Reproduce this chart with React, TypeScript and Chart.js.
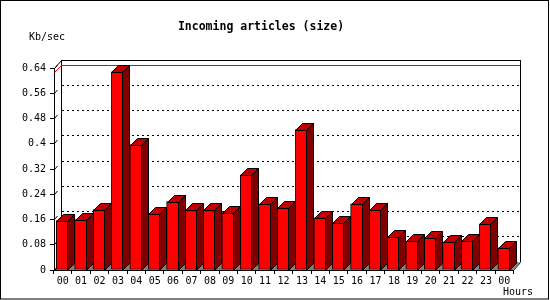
import React, { useEffect, useRef } from "react";
import { Chart, registerables } from "chart.js";

Chart.register(...registerables);

const hours = ["00","01","02","03","04","05","06","07","08","09","10","11","12","13","14","15","16","17","18","19","20","21","22","23","00"];
const sizeValues = [0.155,0.158,0.19,0.626,0.396,0.176,0.215,0.187,0.187,0.18,0.30,0.208,0.195,0.443,0.164,0.148,0.208,0.189,0.104,0.09,0.10,0.088,0.09,0.145,0.069];
const yTicks = [0,0.08,0.16,0.24,0.32,0.4,0.48,0.56,0.64];
const yTickLabels = ["0","0.08","0.16","0.24","0.32","0.4","0.48","0.56","0.64"];
const titleText = "Incoming articles (size)";
const yTitle = "Kb/sec";
const xTitle = "Hours";

const FONT = "'DejaVu Sans Mono', monospace";
const WALL_DX = 7, WALL_DY = 8;
const BAR_DX = 7, BAR_DY = 7;

const threeD = {
  id: "threeD",
  beforeDatasetsDraw(chart: any) {
    const ctx = chart.ctx as CanvasRenderingContext2D;
    const { left, right, top, bottom } = chart.chartArea;
    const y = chart.scales.y;
    const x = chart.scales.x;
    const L = Math.round(left) + 1; // front axis x
    const R = Math.round(right);
    const T = Math.round(y.getPixelForValue(0.64));
    const B = Math.round(y.getPixelForValue(0));
    ctx.save();
    // outer border
    ctx.fillStyle = "#fff";
    ctx.fillRect(0, 0, 550, 300);
    ctx.strokeStyle = "#000";
    ctx.lineWidth = 1;
    ctx.strokeRect(0.5, 0.5, 548, 298.5);
    // title
    ctx.fillStyle = "#000";
    ctx.font = `bold 11.5px ${FONT}`;
    ctx.textAlign = "center";
    ctx.textBaseline = "middle";
    ctx.fillText(titleText, 261, 27);
    ctx.font = `10px ${FONT}`;
    ctx.textAlign = "left";
    ctx.fillText(yTitle, 29, 37);
    ctx.textAlign = "right";
    ctx.fillText(xTitle, 533, 292);
    // floor
    ctx.fillStyle = "#808080";
    ctx.beginPath();
    ctx.moveTo(L, B);
    ctx.lineTo(L + WALL_DX, B - WALL_DY);
    ctx.lineTo(R + WALL_DX, B - WALL_DY);
    ctx.lineTo(R, B);
    ctx.closePath();
    ctx.fill();
    // frame lines
    ctx.strokeStyle = "#000";
    ctx.beginPath();
    // front y axis
    ctx.moveTo(L + 0.5, T); ctx.lineTo(L + 0.5, B);
    // back wall left
    ctx.moveTo(L + WALL_DX + 0.5, T - WALL_DY); ctx.lineTo(L + WALL_DX + 0.5, B - WALL_DY);
    // back wall top
    ctx.moveTo(L + WALL_DX, T - WALL_DY + 0.5); ctx.lineTo(R + WALL_DX + 1, T - WALL_DY + 0.5);
    // back wall right
    ctx.moveTo(R + WALL_DX + 0.5, T - WALL_DY); ctx.lineTo(R + WALL_DX + 0.5, B - WALL_DY);
    // right floor diagonal
    ctx.moveTo(R + WALL_DX + 0.5, B - WALL_DY + 0.5); ctx.lineTo(R + 0.5, B + 0.5);
    // front bottom
    ctx.moveTo(L, B + 0.5); ctx.lineTo(R + 1, B + 0.5);
    // left top diagonal
    ctx.moveTo(L + 0.5, T + 0.5); ctx.lineTo(L + WALL_DX + 0.5, T - WALL_DY + 0.5);
    ctx.moveTo(L + 0.5, B + 0.5); ctx.lineTo(L + WALL_DX + 0.5, B - WALL_DY + 0.5);
    ctx.stroke();
    // y ticks, labels and back grid
    ctx.font = `10px ${FONT}`;
    ctx.textAlign = "right";
    ctx.textBaseline = "middle";
    ctx.fillStyle = "#000";
    yTicks.forEach((v, i) => {
      const py = Math.round(y.getPixelForValue(v));
      ctx.fillText(yTickLabels[i], 46, py + 0.5);
      ctx.setLineDash([]);
      ctx.beginPath();
      ctx.moveTo(L - 4, py + 0.5); ctx.lineTo(L + 1, py + 0.5);
      ctx.moveTo(L + 0.5, py + 0.5); ctx.lineTo(L + 3.5, py - 3);
      ctx.stroke();
      if (v > 0 && v < 0.64) {
        ctx.setLineDash([2, 3]);
        ctx.beginPath();
        ctx.moveTo(L + WALL_DX + 1, py - WALL_DY + 0.5);
        ctx.lineTo(R + WALL_DX, py - WALL_DY + 0.5);
        ctx.stroke();
      }
    });
    ctx.setLineDash([]);
    // max line (red)
    const maxV = Math.max(...sizeValues);
    const my = Math.round(y.getPixelForValue(maxV));
    ctx.strokeStyle = "#ff0000";
    ctx.beginPath();
    ctx.moveTo(L + 0.5, my + 0.5);
    ctx.lineTo(L + BAR_DX + 0.5, my - BAR_DY + 0.5);
    ctx.lineTo(R + WALL_DX, my - BAR_DY + 0.5);
    ctx.stroke();
    // x ticks & labels
    ctx.strokeStyle = "#000";
    ctx.fillStyle = "#000";
    ctx.textAlign = "center";
    const n = hours.length;
    const cw = (right - left) / n;
    ctx.beginPath();
    for (let i = 0; i <= n; i++) {
      const px = Math.round(left + cw * i) + 0.5;
      ctx.moveTo(px, B); ctx.lineTo(px, B + 4);
    }
    ctx.stroke();
    hours.forEach((h, i) => {
      ctx.fillText(h, x.getPixelForValue(i) + 0.5, 281);
    });
    ctx.restore();
  },
  afterDatasetsDraw(chart: any) {
    const ctx = chart.ctx as CanvasRenderingContext2D;
    const meta = chart.getDatasetMeta(0);
    ctx.save();
    ctx.lineWidth = 1;
    ctx.strokeStyle = "#000";
    meta.data.forEach((bar: any) => {
      const x1 = Math.round(bar.x - bar.width / 2);
      const x2 = Math.round(bar.x + bar.width / 2) - 1;
      const yt = Math.round(bar.y);
      const yb = Math.round(bar.base);
      // top face
      ctx.fillStyle = "#c00000";
      ctx.beginPath();
      ctx.moveTo(x1 + 0.5, yt + 0.5);
      ctx.lineTo(x1 + BAR_DX + 0.5, yt - BAR_DY + 0.5);
      ctx.lineTo(x2 + BAR_DX + 0.5, yt - BAR_DY + 0.5);
      ctx.lineTo(x2 + 0.5, yt + 0.5);
      ctx.closePath();
      ctx.fill();
      ctx.stroke();
      // side face
      ctx.fillStyle = "#800000";
      ctx.beginPath();
      ctx.moveTo(x2 + 0.5, yt + 0.5);
      ctx.lineTo(x2 + BAR_DX + 0.5, yt - BAR_DY + 0.5);
      ctx.lineTo(x2 + BAR_DX + 0.5, yb - BAR_DY + 0.5);
      ctx.lineTo(x2 + 0.5, yb + 0.5);
      ctx.closePath();
      ctx.fill();
      ctx.stroke();
    });
    ctx.restore();
  },
};

export default function App() {
  const ref = useRef<HTMLCanvasElement | null>(null);
  useEffect(() => {
    document.body.style.margin = "0";
    const canvas = ref.current!;
    const chart = new Chart(canvas, {
      type: "bar",
      data: {
        labels: hours,
        datasets: [
          {
            data: sizeValues,
            backgroundColor: "#ff0000",
            borderColor: "#000000",
            borderWidth: 1,
            borderSkipped: false,
            barThickness: 12,
          } as any,
        ],
      },
      options: {
        responsive: false,
        animation: false,
        devicePixelRatio: 1,
        layout: { padding: { left: 53, right: 37, top: 67.5, bottom: 30.5 } },
        plugins: { legend: { display: false }, tooltip: { enabled: false }, title: { display: false } },
        scales: {
          x: { type: "category", display: false, offset: true },
          y: { type: "linear", display: false, min: 0, max: 0.64 },
        },
      },
      plugins: [threeD],
    });
    return () => chart.destroy();
  }, []);
  return <canvas ref={ref} width={550} height={300} style={{ display: "block" }} />;
}
